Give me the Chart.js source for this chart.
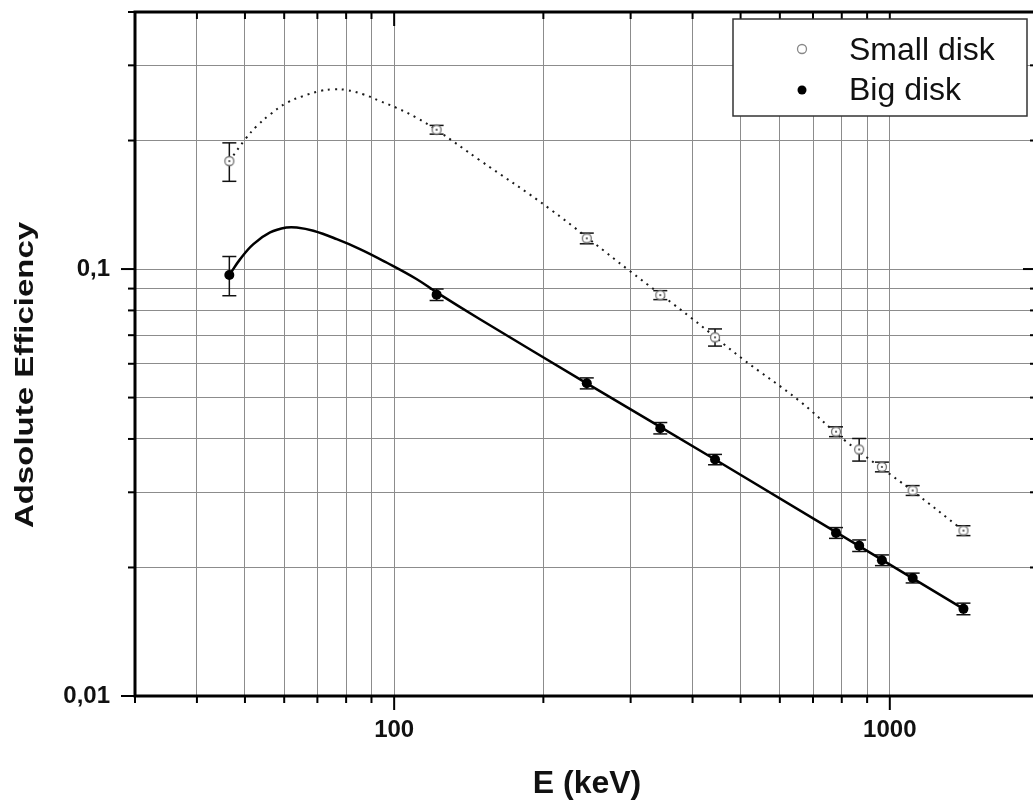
<!DOCTYPE html>
<html>
<head>
<meta charset="utf-8">
<title>Absolute efficiency</title>
<script src="https://cdn.jsdelivr.net/npm/chart.js@4.4.1/dist/chart.umd.min.js"></script>
<style>
  html, body { margin: 0; padding: 0; background: #fff; overflow: hidden; }
  #wrap { position: relative; width: 1045px; height: 801px; }
</style>
</head>
<body>
<div id="wrap"><canvas id="chart"></canvas></div>
<script>
// gamma line energies (keV)
const energies = [46.5, 121.8, 244.7, 344.3, 444.0, 778.9, 867.4, 964.1, 1112.1, 1408.0];

// measured efficiencies + errors
const smallEff = [0.179, 0.212, 0.118, 0.0869, 0.0692, 0.0416, 0.0378, 0.0344, 0.0303, 0.0244];
const smallErr = [0.0185, 0.005, 0.0034, 0.0021, 0.0032, 0.0011, 0.0023, 0.0009, 0.0008, 0.00065];
const bigEff = [0.0968, 0.0871, 0.054, 0.0424, 0.0358, 0.0241, 0.0225, 0.0208, 0.0189, 0.0160];
const bigErr = [0.0102, 0.0027, 0.0016, 0.0013, 0.0010, 0.0007, 0.0007, 0.0006, 0.0005, 0.0005];

// fit curves
const smallFitE = [46.5, 50.05, 52.84, 56.22, 60.72, 65.57, 70.86, 75.38, 80.2, 86.6, 93.6, 101.1, 110.9, 121.8, 148.7, 205.9, 298.3, 399.5, 503.6, 655.7, 815.4, 1108, 1408];
const smallFitEff = [0.179, 0.2014, 0.2163, 0.2303, 0.2452, 0.2542, 0.2612, 0.2636, 0.2626, 0.2566, 0.2474, 0.2386, 0.2262, 0.2117, 0.180, 0.1384, 0.0991, 0.0765, 0.0617, 0.0492, 0.0395, 0.0303, 0.0244];
const bigFitE = [46.5, 48.9, 52.0, 56.2, 60.7, 63.6, 68.7, 76.6, 85.3, 96.5, 110.9, 121.8, 148.7, 244.7, 444.0, 1408];
const bigFitEff = [0.0968, 0.1055, 0.1144, 0.1218, 0.1251, 0.1251, 0.1229, 0.1175, 0.1114, 0.1036, 0.0948, 0.0882, 0.0764, 0.054, 0.0358, 0.016];

// axes
const xTicks = [30, 40, 50, 60, 70, 80, 90, 100, 200, 300, 400, 500, 600, 700, 800, 900, 1000, 2000];
const yTicks = [0.01, 0.02, 0.03, 0.04, 0.05, 0.06, 0.07, 0.08, 0.09, 0.1, 0.2, 0.3, 0.4];
const xLabels = { 100: '100', 1000: '1000' };
const yLabels = { 0.01: '0,01', 0.1: '0,1' };
const xTitle = 'E (keV)';
const yTitle = 'Adsolute Efficiency';
const seriesNames = ['Small disk', 'Big disk'];

const FONT = "'Liberation Sans', Arial, sans-serif";

function pts(xs, ys) {
    return xs.map((v, i) => ({ x: v, y: ys[i] }));
}

// open circle with a dot, like the original marker
const smallMarker = (() => {
    const c = document.createElement('canvas');
    c.width = 14; c.height = 14;
    const g = c.getContext('2d');
    g.beginPath(); g.arc(7, 7, 4.5, 0, Math.PI * 2);
    g.fillStyle = '#fff'; g.fill();
    g.lineWidth = 1.3; g.strokeStyle = '#707070'; g.stroke();
    g.beginPath(); g.arc(7, 7, 1.1, 0, Math.PI * 2);
    g.fillStyle = '#404040'; g.fill();
    return c;
})();

function seg(ctx, x1, y1, x2, y2) {
    ctx.beginPath(); ctx.moveTo(x1, y1); ctx.lineTo(x2, y2); ctx.stroke();
}

const errorBars = {
    id: 'errorBars',
    beforeDatasetsDraw(chart) {
        const { ctx, scales: { x, y } } = chart;
        ctx.save();
        ctx.strokeStyle = '#111';
        ctx.lineWidth = 1.5;
        chart.data.datasets.forEach(ds => {
            if (!ds.errors) return;
            ds.data.forEach((p, i) => {
                const e = ds.errors[i];
                const px = x.getPixelForValue(p.x);
                const top = y.getPixelForValue(p.y + e);
                const bot = y.getPixelForValue(p.y - e);
                seg(ctx, px, top, px, bot);
                seg(ctx, px - 7, top, px + 7, top);
                seg(ctx, px - 7, bot, px + 7, bot);
            });
        });
        ctx.restore();
    }
};

const frame = {
    id: 'frame',
    afterDraw(chart) {
        const { ctx, chartArea: a, scales: { x, y } } = chart;
        ctx.save();
        ctx.strokeStyle = '#000';
        ctx.lineWidth = 2;
        xTicks.forEach(v => {
            const px = x.getPixelForValue(v);
            const len = xLabels[v] ? 14 : 7;
            seg(ctx, px, a.bottom, px, a.bottom + len);
            seg(ctx, px, a.top, px, a.top + len);
        });
        yTicks.forEach(v => {
            const py = y.getPixelForValue(v);
            const len = yLabels[v] ? 14 : 7;
            seg(ctx, a.left - len, py, a.left, py);
            seg(ctx, a.right - len - 2, py, a.right, py);
        });
        ctx.lineWidth = 3;
        ctx.strokeRect(a.left, a.top, a.right - a.left, a.bottom - a.top);

        // axis titles
        ctx.fillStyle = '#111';
        ctx.font = 'bold 32px ' + FONT;
        ctx.textAlign = 'center';
        ctx.textBaseline = 'alphabetic';
        ctx.fillText(xTitle, 587, 793);
        ctx.save();
        ctx.translate(33, 375);
        ctx.rotate(-Math.PI / 2);
        ctx.scale(1, 0.78);
        ctx.font = 'bold 33px ' + FONT;
        ctx.fillText(yTitle, 0, 0);
        ctx.restore();

        // legend box
        ctx.fillStyle = '#fff';
        ctx.fillRect(733, 19, 294, 97);
        ctx.lineWidth = 1.5;
        ctx.strokeStyle = '#333';
        ctx.strokeRect(733, 19, 294, 97);
        ctx.beginPath(); ctx.arc(802, 49, 4.5, 0, Math.PI * 2);
        ctx.lineWidth = 1.3; ctx.strokeStyle = '#888'; ctx.stroke();
        ctx.beginPath(); ctx.arc(802, 90, 4.5, 0, Math.PI * 2);
        ctx.fillStyle = '#000'; ctx.fill();
        ctx.fillStyle = '#111';
        ctx.font = '32px ' + FONT;
        ctx.textAlign = 'left';
        ctx.fillText(seriesNames[0], 849, 60);
        ctx.fillText(seriesNames[1], 849, 100);
        ctx.restore();
    }
};

new Chart(document.getElementById('chart'), {
    type: 'scatter',
    data: {
        datasets: [
            {
                label: seriesNames[0],
                data: pts(energies, smallEff),
                errors: smallErr,
                pointStyle: smallMarker,
                pointRadius: 5
            },
            {
                label: seriesNames[1],
                data: pts(energies, bigEff),
                errors: bigErr,
                pointStyle: 'circle',
                pointRadius: 5,
                backgroundColor: '#000',
                borderColor: '#000',
                borderWidth: 0
            },
            {
                label: 'fit small',
                data: pts(smallFitE, smallFitEff),
                showLine: true,
                pointRadius: 0,
                borderColor: '#1a1a1a',
                borderWidth: 2,
                borderDash: [2, 5],
                tension: 0.4
            },
            {
                label: 'fit big',
                data: pts(bigFitE, bigFitEff),
                showLine: true,
                pointRadius: 0,
                borderColor: '#000',
                borderWidth: 2.5,
                tension: 0.4
            }
        ]
    },
    options: {
        responsive: true,
        maintainAspectRatio: false,
        animation: false,
        layout: { padding: { top: 12, right: 5, left: 0, bottom: 0 } },
        plugins: {
            legend: { display: false },
            tooltip: { enabled: false }
        },
        scales: {
            x: {
                type: 'logarithmic',
                min: 30,
                max: 2000,
                afterBuildTicks: (s) => { s.ticks = xTicks.map(v => ({ value: v })); },
                afterFit: (s) => { s.height = 105; s.paddingLeft = 0; s.paddingRight = 0; },
                border: { display: false },
                grid: { color: '#8c8c8c', lineWidth: 1, drawTicks: false },
                ticks: {
                    autoSkip: false,
                    maxRotation: 0,
                    padding: 20,
                    color: '#111',
                    font: { family: FONT, size: 24, weight: 'bold' },
                    callback: (v) => xLabels[v] || ''
                }
            },
            y: {
                type: 'logarithmic',
                min: 0.01,
                max: 0.4,
                afterBuildTicks: (s) => { s.ticks = yTicks.map(v => ({ value: v })); },
                afterFit: (s) => { s.width = 135; s.paddingTop = 0; s.paddingBottom = 0; },
                border: { display: false },
                grid: { color: '#8c8c8c', lineWidth: 1, drawTicks: false },
                ticks: {
                    autoSkip: false,
                    padding: 25,
                    color: '#111',
                    font: { family: FONT, size: 24, weight: 'bold' },
                    callback: (v) => yLabels[v] || ''
                }
            }
        }
    },
    plugins: [errorBars, frame]
});
</script>
</body>
</html>
